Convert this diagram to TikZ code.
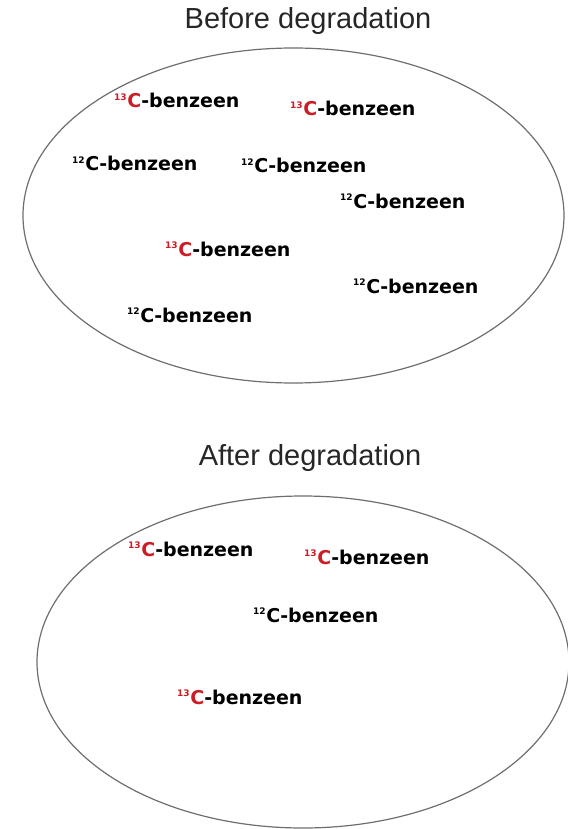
\documentclass[tikz,border=0pt]{standalone}
\usepackage{fontspec}
\setmainfont{Liberation Sans}
\newfontfamily\lblfont{DejaVu Sans}
\usetikzlibrary{shapes.geometric}
\definecolor{cred}{RGB}{204,28,36}
\definecolor{ringgray}{RGB}{110,110,110}
\newcommand{\benz}[2]{\raisebox{7.2pt}{\fontsize{9}{9}\selectfont\color{#2}#1}\kern0.6pt{\color{#2}C}-benzeen}
\tikzset{
  lbl/.style={anchor=base west, inner sep=0pt, font=\lblfont\bfseries\fontsize{19}{19}\selectfont},
  ttl/.style={anchor=base, inner sep=0pt, font=\fontsize{29}{29}\selectfont, text=black!85},
  ring/.style={ellipse, draw=ringgray, line width=1.2pt, inner sep=0pt}
}
\begin{document}
\begin{tikzpicture}[x=1pt,y=-1pt]
\useasboundingbox (0,0) rectangle (567,829);
\node[ttl] (t1) at (308,29) {Before degradation};
\node[ring, minimum width=541pt, minimum height=335pt] (e1) at (293.5,215.5) {};
\node[lbl] (b1) at (114,108) {\benz{13}{cred}};
\node[lbl] (b2) at (290,116) {\benz{13}{cred}};
\node[lbl] (b3) at (72,171) {\benz{12}{black}};
\node[lbl] (b4) at (241,173) {\benz{12}{black}};
\node[lbl] (b5) at (340,208) {\benz{12}{black}};
\node[lbl] (b6) at (165,256) {\benz{13}{cred}};
\node[lbl] (b7) at (353,293) {\benz{12}{black}};
\node[lbl] (b8) at (127,322) {\benz{12}{black}};
\node[ttl] (t2) at (310,465) {After degradation};
\node[ring, minimum width=532pt, minimum height=332pt] (e2) at (303,662) {};
\node[lbl] (a1) at (128,556) {\benz{13}{cred}};
\node[lbl] (a2) at (304,564) {\benz{13}{cred}};
\node[lbl] (a3) at (253,622) {\benz{12}{black}};
\node[lbl] (a4) at (177,704) {\benz{13}{cred}};
\end{tikzpicture}
\end{document}
